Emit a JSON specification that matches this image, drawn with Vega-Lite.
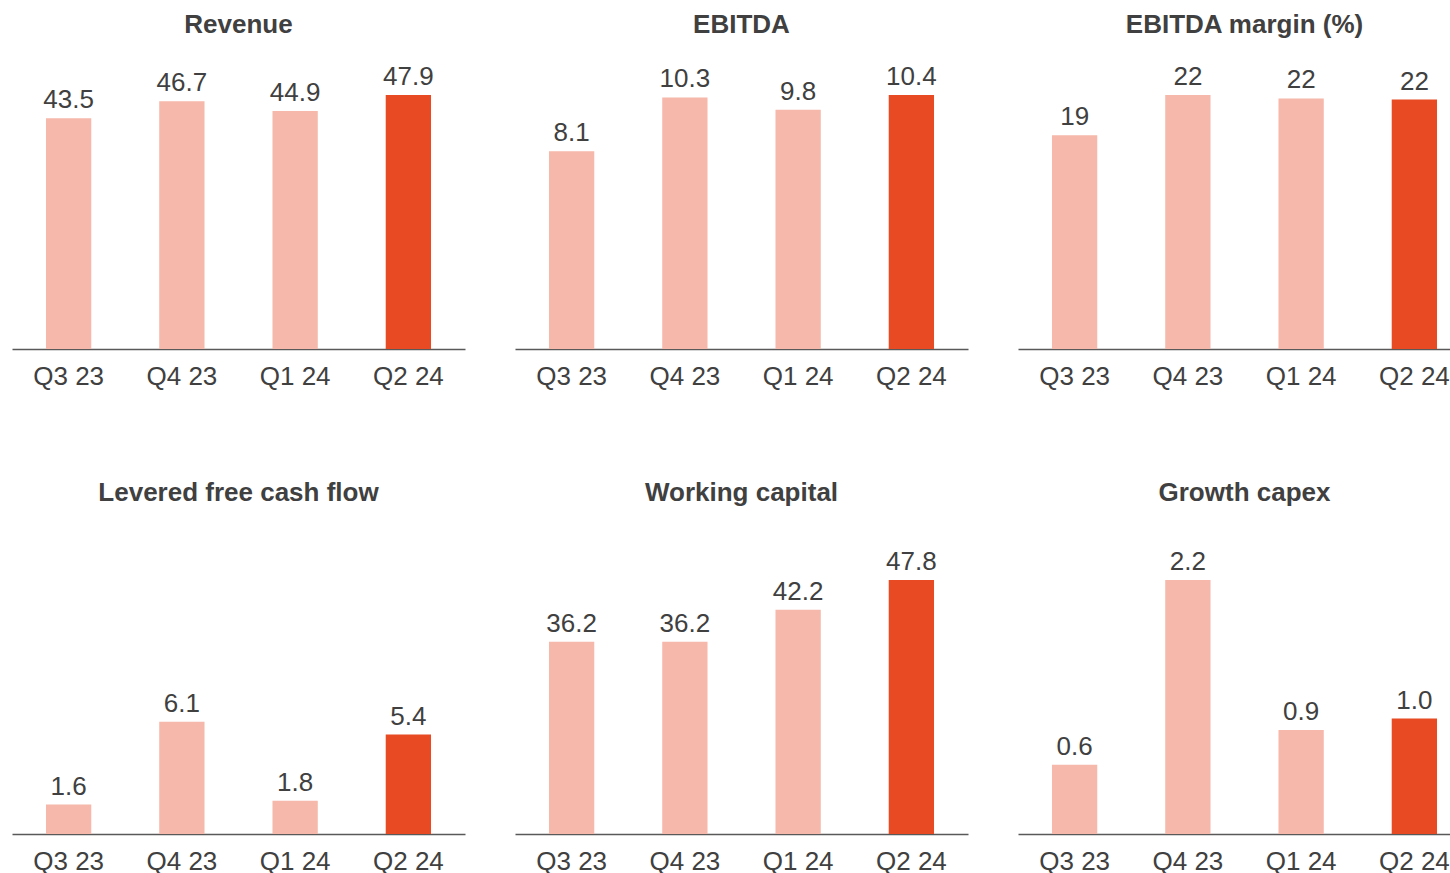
{
  "$schema": "https://vega.github.io/schema/vega-lite/v6.json",
  "padding": {"left": 12, "top": 12, "right": 0, "bottom": 0},
  "autosize": {"type": "pad"},
  "background": "white",
  "config": {
    "font": "Liberation Sans",
    "view": {"stroke": null},
    "title": {"fontSize": 26, "fontWeight": "bold", "color": "#404040", "baseline": "alphabetic", "anchor": "middle"},
    "axisX": {"title": null, "labelAngle": 0, "labelFontSize": 26, "labelColor": "#404040", "labelPadding": 14, "ticks": false, "domainColor": "#595959", "domainWidth": 1.5, "grid": false}
  },
  "datasets": {
    "kpi": [
      {"metric": "Revenue", "quarter": "Q3 23", "value": 43.5},
      {"metric": "Revenue", "quarter": "Q4 23", "value": 46.7},
      {"metric": "Revenue", "quarter": "Q1 24", "value": 44.9},
      {"metric": "Revenue", "quarter": "Q2 24", "value": 47.9},
      {"metric": "EBITDA", "quarter": "Q3 23", "value": 8.1},
      {"metric": "EBITDA", "quarter": "Q4 23", "value": 10.3},
      {"metric": "EBITDA", "quarter": "Q1 24", "value": 9.8},
      {"metric": "EBITDA", "quarter": "Q2 24", "value": 10.4},
      {"metric": "Margin", "quarter": "Q3 23", "value": 18.6},
      {"metric": "Margin", "quarter": "Q4 23", "value": 22.1},
      {"metric": "Margin", "quarter": "Q1 24", "value": 21.8},
      {"metric": "Margin", "quarter": "Q2 24", "value": 21.7},
      {"metric": "LFCF", "quarter": "Q3 23", "value": 1.6},
      {"metric": "LFCF", "quarter": "Q4 23", "value": 6.1},
      {"metric": "LFCF", "quarter": "Q1 24", "value": 1.8},
      {"metric": "LFCF", "quarter": "Q2 24", "value": 5.4},
      {"metric": "WC", "quarter": "Q3 23", "value": 36.2},
      {"metric": "WC", "quarter": "Q4 23", "value": 36.2},
      {"metric": "WC", "quarter": "Q1 24", "value": 42.2},
      {"metric": "WC", "quarter": "Q2 24", "value": 47.8},
      {"metric": "Capex", "quarter": "Q3 23", "value": 0.6},
      {"metric": "Capex", "quarter": "Q4 23", "value": 2.2},
      {"metric": "Capex", "quarter": "Q1 24", "value": 0.9},
      {"metric": "Capex", "quarter": "Q2 24", "value": 1.0}
    ]
  },
  "data": {"name": "kpi"},
  "columns": 3,
  "spacing": {"row": 231, "column": 50},
  "bounds": "flush",
  "concat": [
    {
      "title": {"text": "Revenue", "offset": 26},
      "width": 453, "height": 254,
      "transform": [{"filter": "datum.metric === 'Revenue'"}],
      "encoding": {
        "x": {"field": "quarter", "type": "nominal", "sort": ["Q3 23", "Q4 23", "Q1 24", "Q2 24"], "scale": {"paddingInner": 0.6, "paddingOuter": 0.3}},
        "y": {"field": "value", "type": "quantitative", "scale": {"domain": [0, 47.9], "nice": false}, "axis": null}
      },
      "layer": [
        {"mark": {"type": "bar"}, "encoding": {"color": {"condition": {"test": "datum.quarter === 'Q2 24'", "value": "#E84A23"}, "value": "#F6B8AA"}}},
        {"mark": {"type": "text", "dy": -10, "baseline": "alphabetic", "fontSize": 26, "color": "#404040"}, "encoding": {"text": {"field": "value", "type": "quantitative", "format": ".1f"}}}
      ]
    },
    {
      "title": {"text": "EBITDA", "offset": 26},
      "width": 453, "height": 254,
      "transform": [{"filter": "datum.metric === 'EBITDA'"}],
      "encoding": {
        "x": {"field": "quarter", "type": "nominal", "sort": ["Q3 23", "Q4 23", "Q1 24", "Q2 24"], "scale": {"paddingInner": 0.6, "paddingOuter": 0.3}},
        "y": {"field": "value", "type": "quantitative", "scale": {"domain": [0, 10.4], "nice": false}, "axis": null}
      },
      "layer": [
        {"mark": {"type": "bar"}, "encoding": {"color": {"condition": {"test": "datum.quarter === 'Q2 24'", "value": "#E84A23"}, "value": "#F6B8AA"}}},
        {"mark": {"type": "text", "dy": -10, "baseline": "alphabetic", "fontSize": 26, "color": "#404040"}, "encoding": {"text": {"field": "value", "type": "quantitative", "format": ".1f"}}}
      ]
    },
    {
      "title": {"text": "EBITDA margin (%)", "offset": 26},
      "width": 453, "height": 254,
      "transform": [{"filter": "datum.metric === 'Margin'"}],
      "encoding": {
        "x": {"field": "quarter", "type": "nominal", "sort": ["Q3 23", "Q4 23", "Q1 24", "Q2 24"], "scale": {"paddingInner": 0.6, "paddingOuter": 0.3}},
        "y": {"field": "value", "type": "quantitative", "scale": {"domain": [0, 22.1], "nice": false}, "axis": null}
      },
      "layer": [
        {"mark": {"type": "bar"}, "encoding": {"color": {"condition": {"test": "datum.quarter === 'Q2 24'", "value": "#E84A23"}, "value": "#F6B8AA"}}},
        {"mark": {"type": "text", "dy": -10, "baseline": "alphabetic", "fontSize": 26, "color": "#404040"}, "encoding": {"text": {"field": "value", "type": "quantitative", "format": ".0f"}}}
      ]
    },
    {
      "title": {"text": "Levered free cash flow", "offset": 74},
      "width": 453, "height": 254,
      "transform": [{"filter": "datum.metric === 'LFCF'"}],
      "encoding": {
        "x": {"field": "quarter", "type": "nominal", "sort": ["Q3 23", "Q4 23", "Q1 24", "Q2 24"], "scale": {"paddingInner": 0.6, "paddingOuter": 0.3}},
        "y": {"field": "value", "type": "quantitative", "scale": {"domain": [0, 13.8], "nice": false}, "axis": null}
      },
      "layer": [
        {"mark": {"type": "bar"}, "encoding": {"color": {"condition": {"test": "datum.quarter === 'Q2 24'", "value": "#E84A23"}, "value": "#F6B8AA"}}},
        {"mark": {"type": "text", "dy": -10, "baseline": "alphabetic", "fontSize": 26, "color": "#404040"}, "encoding": {"text": {"field": "value", "type": "quantitative", "format": ".1f"}}}
      ]
    },
    {
      "title": {"text": "Working capital", "offset": 43},
      "width": 453, "height": 254,
      "transform": [{"filter": "datum.metric === 'WC'"}],
      "encoding": {
        "x": {"field": "quarter", "type": "nominal", "sort": ["Q3 23", "Q4 23", "Q1 24", "Q2 24"], "scale": {"paddingInner": 0.6, "paddingOuter": 0.3}},
        "y": {"field": "value", "type": "quantitative", "scale": {"domain": [0, 47.8], "nice": false}, "axis": null}
      },
      "layer": [
        {"mark": {"type": "bar"}, "encoding": {"color": {"condition": {"test": "datum.quarter === 'Q2 24'", "value": "#E84A23"}, "value": "#F6B8AA"}}},
        {"mark": {"type": "text", "dy": -10, "baseline": "alphabetic", "fontSize": 26, "color": "#404040"}, "encoding": {"text": {"field": "value", "type": "quantitative", "format": ".1f"}}}
      ]
    },
    {
      "title": {"text": "Growth capex", "offset": 43},
      "width": 453, "height": 254,
      "transform": [{"filter": "datum.metric === 'Capex'"}],
      "encoding": {
        "x": {"field": "quarter", "type": "nominal", "sort": ["Q3 23", "Q4 23", "Q1 24", "Q2 24"], "scale": {"paddingInner": 0.6, "paddingOuter": 0.3}},
        "y": {"field": "value", "type": "quantitative", "scale": {"domain": [0, 2.2], "nice": false}, "axis": null}
      },
      "layer": [
        {"mark": {"type": "bar"}, "encoding": {"color": {"condition": {"test": "datum.quarter === 'Q2 24'", "value": "#E84A23"}, "value": "#F6B8AA"}}},
        {"mark": {"type": "text", "dy": -10, "baseline": "alphabetic", "fontSize": 26, "color": "#404040"}, "encoding": {"text": {"field": "value", "type": "quantitative", "format": ".1f"}}}
      ]
    }
  ]
}
